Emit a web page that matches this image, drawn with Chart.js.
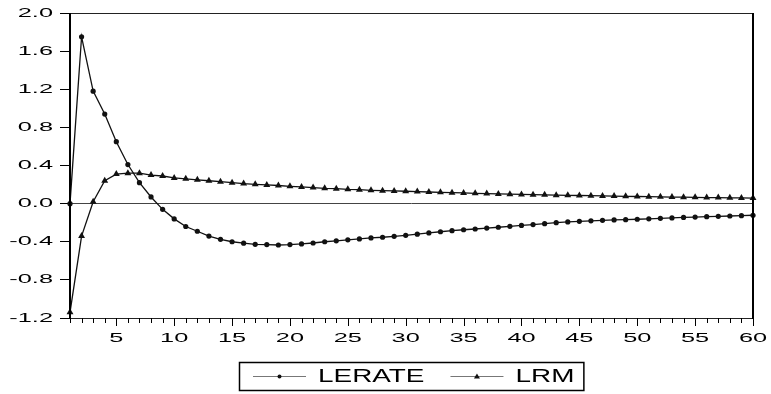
<!DOCTYPE html>
<html>
<head>
<meta charset="utf-8">
<script src="https://cdn.jsdelivr.net/npm/chart.js@4"></script>
<style>
  html, body { margin: 0; padding: 0; background: #fff; }
  #wrap { width: 771px; height: 394px; }
  canvas { display: block; }
</style>
</head>
<body>
<div id="wrap"><canvas id="chart" width="771" height="394"></canvas></div>
<script>
const periods = [1,2,3,4,5,6,7,8,9,10,11,12,13,14,15,16,17,18,19,20,
  21,22,23,24,25,26,27,28,29,30,31,32,33,34,35,36,37,38,39,40,
  41,42,43,44,45,46,47,48,49,50,51,52,53,54,55,56,57,58,59,60];

const lerate = [0.00, 1.75, 1.18, 0.94, 0.65, 0.41, 0.22, 0.07, -0.06, -0.16,
  -0.24, -0.29, -0.34, -0.375, -0.40, -0.415, -0.427, -0.43, -0.434, -0.43,
  -0.423, -0.413, -0.40, -0.39, -0.38, -0.37, -0.36, -0.353, -0.343, -0.333,
  -0.32, -0.307, -0.295, -0.284, -0.274, -0.266, -0.257, -0.248, -0.238, -0.229,
  -0.22, -0.21, -0.20, -0.192, -0.186, -0.18, -0.175, -0.171, -0.168, -0.164,
  -0.159, -0.154, -0.15, -0.145, -0.141, -0.137, -0.133, -0.13, -0.126, -0.122];

const lrm = [-1.14, -0.34, 0.02, 0.24, 0.31, 0.32, 0.32, 0.30, 0.29, 0.27,
  0.26, 0.25, 0.24, 0.23, 0.22, 0.21, 0.203, 0.196, 0.19, 0.182,
  0.175, 0.168, 0.161, 0.157, 0.15, 0.146, 0.14, 0.136, 0.133, 0.13,
  0.126, 0.122, 0.119, 0.115, 0.112, 0.108, 0.105, 0.102, 0.099, 0.097,
  0.094, 0.092, 0.089, 0.087, 0.085, 0.083, 0.081, 0.079, 0.077, 0.075,
  0.073, 0.071, 0.069, 0.068, 0.066, 0.064, 0.063, 0.061, 0.060, 0.058];

const seriesNames = ["LERATE", "LRM"];
const yMin = -1.2, yMax = 2.0, yStep = 0.4;
const xLabelEvery = 5;

const FONT = "'Liberation Sans', Arial, sans-serif";

// text in the original is stretched sideways
function wideText(ctx, text, x, y, align, sx) {
  ctx.save();
  ctx.translate(x, y);
  ctx.scale(sx, 1);
  ctx.textAlign = align;
  ctx.textBaseline = "middle";
  ctx.fillText(text, 0, 0);
  ctx.restore();
}

const framePlugin = {
  id: "frame",
  afterDraw(chart) {
    const ctx = chart.ctx;
    const a = chart.chartArea;
    const xs = chart.scales.x;
    const ys = chart.scales.y;
    ctx.save();

    // frame
    ctx.strokeStyle = "#222";
    ctx.lineWidth = 1;
    ctx.strokeRect(a.left + 0.5, a.top + 0.5, a.right - a.left, a.bottom - a.top);
    ctx.strokeStyle = "#000";
    ctx.lineWidth = 2;
    ctx.beginPath();
    ctx.moveTo(a.left, a.top); ctx.lineTo(a.left, a.bottom + 1);
    ctx.moveTo(a.right, a.top); ctx.lineTo(a.right, a.bottom + 1);
    ctx.stroke();

    // x ticks
    ctx.lineWidth = 1;
    ctx.beginPath();
    periods.forEach(p => {
      const x = Math.round(xs.getPixelForValue(p)) + 0.5;
      const len = p % xLabelEvery === 0 ? 8 : 5;
      ctx.moveTo(x, a.bottom);
      ctx.lineTo(x, a.bottom + len);
    });
    ctx.stroke();

    ctx.fillStyle = "#000";
    ctx.font = "13px " + FONT;
    periods.forEach(p => {
      if (p % xLabelEvery !== 0) return;
      wideText(ctx, String(p), xs.getPixelForValue(p), a.bottom + 20, "center", 1.95);
    });

    // y labels
    ys.ticks.forEach(t => {
      wideText(ctx, t.value.toFixed(1), a.left - 17, ys.getPixelForValue(t.value), "right", 1.95);
    });

    // legend box
    const sx = 1.55, lineLen = 53, gap = 12, itemGap = 26, padL = 14, padR = 9;
    ctx.font = "18px " + FONT;
    const widths = seriesNames.map(n => ctx.measureText(n).width * sx);
    let total = padL + padR;
    widths.forEach((w, i) => { total += lineLen + gap + w + (i > 0 ? itemGap : 0); });
    const cx = (a.left + a.right) / 2;
    const boxL = Math.round(cx - total / 2), boxT = 362, boxH = 28;
    ctx.strokeStyle = "#000";
    ctx.lineWidth = 1.5;
    ctx.strokeRect(boxL + 0.5, boxT + 0.5, total, boxH);
    const ly = boxT + boxH / 2 + 0.5;
    let x = boxL + padL;
    chart.data.datasets.forEach((ds, i) => {
      ctx.strokeStyle = "#777";
      ctx.lineWidth = 1.2;
      ctx.beginPath();
      ctx.moveTo(x, ly); ctx.lineTo(x + lineLen, ly);
      ctx.stroke();
      ctx.fillStyle = "#111";
      const mx = x + lineLen / 2;
      ctx.beginPath();
      if (ds.pointStyle === "triangle") {
        ctx.moveTo(mx, ly - 3); ctx.lineTo(mx + 3, ly + 2); ctx.lineTo(mx - 3, ly + 2);
        ctx.closePath();
      } else {
        ctx.arc(mx, ly, 2, 0, Math.PI * 2);
      }
      ctx.fill();
      ctx.fillStyle = "#000";
      wideText(ctx, ds.label, x + lineLen + gap, ly + 1, "left", sx);
      x += lineLen + gap + widths[i] + itemGap;
    });
    ctx.restore();
  }
};

const ctx = document.getElementById("chart").getContext("2d");
new Chart(ctx, {
  type: "line",
  data: {
    labels: periods,
    datasets: [
      {
        label: seriesNames[0],
        data: lerate,
        borderColor: "#111",
        backgroundColor: "#111",
        borderWidth: 1.3,
        pointStyle: "circle",
        pointRadius: 2.6,
        pointBorderWidth: 0,
        tension: 0,
        clip: false,
      },
      {
        label: seriesNames[1],
        data: lrm,
        borderColor: "#111",
        backgroundColor: "#111",
        borderWidth: 1.3,
        pointStyle: "triangle",
        pointRadius: 4,
        pointBorderWidth: 0,
        tension: 0,
        clip: false,
      },
    ],
  },
  options: {
    responsive: false,
    maintainAspectRatio: false,
    animation: false,
    layout: { padding: { left: 0, right: 18, top: 13, bottom: 0 } },
    scales: {
      x: {
        type: "linear",
        min: 1,
        max: 60,
        border: { display: false },
        grid: { display: false },
        ticks: { display: false },
        afterFit: (scale) => { scale.height = 76; },
      },
      y: {
        min: yMin,
        max: yMax,
        border: { display: false },
        ticks: { stepSize: yStep, color: "rgba(0,0,0,0)", font: { size: 13 } },
        grid: {
          drawTicks: true,
          tickLength: 10,
          tickColor: "#000",
          color: (c) => (c.tick && Math.abs(c.tick.value) < 1e-9 ? "#444" : "rgba(0,0,0,0)"),
          lineWidth: 1,
        },
        afterFit: (scale) => { scale.width = 70; },
      },
    },
    plugins: {
      legend: { display: false },
      tooltip: { enabled: false },
    },
  },
  plugins: [framePlugin],
});
</script>
</body>
</html>
